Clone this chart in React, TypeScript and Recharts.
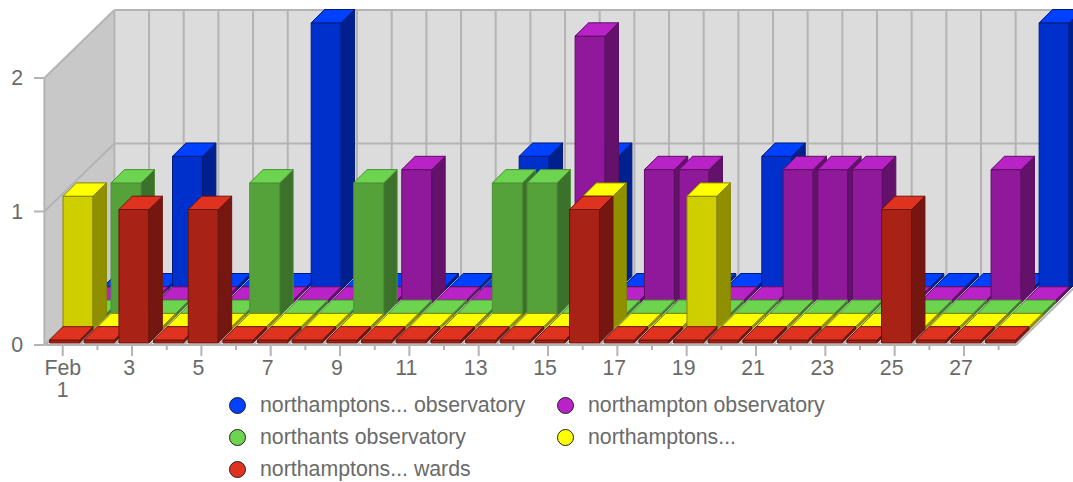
import { BarChart, Bar, XAxis, YAxis, Legend } from "recharts"

const days = [1, 2, 3, 4, 5, 6, 7, 8, 9, 10, 11, 12, 13, 14, 15, 16, 17, 18, 19, 20, 21, 22, 23, 24, 25, 26, 27, 28]
const yTicks = [0, 1, 2]

// one value per day of February
const observatoryA = [0, 0, 1, 0, 0, 0, 2, 0, 0, 0, 0, 0, 1, 0, 1, 0, 0, 0, 0, 1, 0, 0, 0, 0, 0, 0, 0, 2]
const observatoryB = [0, 0, 0, 0, 0, 0, 0, 0, 0, 1, 0, 0, 0, 0, 2, 0, 1, 1, 0, 0, 1, 1, 1, 0, 0, 0, 1, 0]
const northants = [0, 1, 0, 0, 0, 1, 0, 0, 1, 0, 0, 0, 1, 1, 0, 0, 0, 0, 0, 0, 0, 0, 0, 0, 0, 0, 0, 0]
const northamptons = [1, 0, 0, 0, 0, 0, 0, 0, 0, 0, 0, 0, 0, 0, 0, 1, 0, 0, 1, 0, 0, 0, 0, 0, 0, 0, 0, 0]
const wards = [0, 0, 1, 0, 1, 0, 0, 0, 0, 0, 0, 0, 0, 0, 0, 1, 0, 0, 0, 0, 0, 0, 0, 0, 1, 0, 0, 0]

const data = days.map((day, i) => ({
  day,
  observatoryA: observatoryA[i],
  observatoryB: observatoryB[i],
  northants: northants[i],
  northamptons: northamptons[i],
  wards: wards[i],
}))

const WIDTH = 1073
const HEIGHT = 482
const LEFT = 45.4
const RIGHT = 1016
const TOP = 78
const BOTTOM = 345
const WALL_DX = 69
const WALL_DY = 68
const DEPTH_DX = 13.4
const DEPTH_DY = 13.3
const BAR_W = 30
const LINE = "#b4b4b4"
const TEXT = "#6a6a6a"
const FONT = "'Liberation Sans', Arial, sans-serif"
const FONT_SIZE = 21.3

function Backdrop() {
  const band = (RIGHT - LEFT) / days.length
  const y1 = (TOP + BOTTOM) / 2
  const grid = [...days, 0]
  return (
    <g>
      <polygon
        points={`${LEFT + WALL_DX},${TOP - WALL_DY} ${RIGHT + WALL_DX},${TOP - WALL_DY} ${RIGHT + WALL_DX},${BOTTOM - WALL_DY} ${LEFT + WALL_DX},${BOTTOM - WALL_DY}`}
        fill="#dcdcdc"
      />
      <polygon
        points={`${LEFT - 1},${TOP} ${LEFT + WALL_DX},${TOP - WALL_DY} ${LEFT + WALL_DX},${BOTTOM - WALL_DY} ${LEFT - 1},${BOTTOM}`}
        fill="#c8c8c8"
      />
      <polygon
        points={`${LEFT},${BOTTOM} ${RIGHT},${BOTTOM} ${RIGHT + WALL_DX},${BOTTOM - WALL_DY} ${LEFT + WALL_DX},${BOTTOM - WALL_DY}`}
        fill="#ffffff"
      />
      {grid.map((d) => {
        const x = LEFT + d * band
        return (
          <g key={d} stroke={LINE} strokeWidth={2}>
            <line x1={x + WALL_DX} y1={TOP - WALL_DY} x2={x + WALL_DX} y2={BOTTOM - WALL_DY} />
            <line x1={x} y1={BOTTOM} x2={x + WALL_DX} y2={BOTTOM - WALL_DY} />
          </g>
        )
      })}
      <g stroke={LINE} strokeWidth={2} fill="none">
        <line x1={LEFT + WALL_DX} y1={TOP - WALL_DY} x2={RIGHT + WALL_DX} y2={TOP - WALL_DY} />
        <line x1={LEFT + WALL_DX} y1={y1 - WALL_DY} x2={RIGHT + WALL_DX} y2={y1 - WALL_DY} />
        <line x1={LEFT + WALL_DX} y1={BOTTOM - WALL_DY} x2={RIGHT + WALL_DX} y2={BOTTOM - WALL_DY} />
        <line x1={LEFT - 1} y1={TOP} x2={LEFT - 1} y2={BOTTOM} />
        <line x1={LEFT - 1} y1={TOP} x2={LEFT + WALL_DX} y2={TOP - WALL_DY} />
        <line x1={LEFT - 1} y1={y1} x2={LEFT + WALL_DX} y2={y1 - WALL_DY} />
        <line x1={LEFT - 1} y1={BOTTOM} x2={LEFT + WALL_DX} y2={BOTTOM - WALL_DY} />
      </g>
    </g>
  )
}

function Box3D(props: any) {
  const { x, y, height, depth, front, side, top, edge } = props
  const left = x + 2.2 + depth * DEPTH_DX
  const base = y + height - 2 - depth * DEPTH_DY
  const upper = height > 0 ? y - 2 - depth * DEPTH_DY : base - 3
  const right = left + BAR_W
  return (
    <g stroke={edge} strokeWidth={1} strokeLinejoin="round">
      <rect x={left} y={upper} width={BAR_W} height={base - upper} fill={front} />
      <polygon
        points={`${right},${upper} ${right + DEPTH_DX},${upper - DEPTH_DY} ${right + DEPTH_DX},${base - DEPTH_DY} ${right},${base}`}
        fill={side}
      />
      <polygon
        points={`${left},${upper} ${left + DEPTH_DX},${upper - DEPTH_DY} ${right + DEPTH_DX},${upper - DEPTH_DY} ${right},${upper}`}
        fill={top}
      />
    </g>
  )
}

function DayTick({ x, y, payload }: any) {
  const odd = payload.value % 2 === 1
  const first = payload.value === 1
  return (
    <g>
      <line x1={x} y1={BOTTOM} x2={x} y2={BOTTOM + (odd ? 11 : 5)} stroke={LINE} strokeWidth={2} />
      {odd && (
        <text x={first ? x : x - 3} y={y + 22} textAnchor="middle" fontSize={FONT_SIZE} fontFamily={FONT} fill={TEXT}>
          {first ? "Feb" : payload.value}
        </text>
      )}
      {first && (
        <text x={x} y={y + 44} textAnchor="middle" fontSize={FONT_SIZE} fontFamily={FONT} fill={TEXT}>
          {payload.value}
        </text>
      )}
    </g>
  )
}

function ValueTick({ y, payload }: any) {
  return (
    <g>
      <line x1={34} y1={y} x2={LEFT - 1} y2={y} stroke={LINE} strokeWidth={2} />
      <text x={23} y={y + 7} textAnchor="end" fontSize={FONT_SIZE} fontFamily={FONT} fill={TEXT}>
        {payload.value}
      </text>
    </g>
  )
}

const legendSpots = [
  { left: 229, top: 8 },
  { left: 557, top: 8 },
  { left: 229, top: 40 },
  { left: 557, top: 40 },
  { left: 229, top: 72 },
]

function LegendRows({ payload }: any) {
  return (
    <div style={{ position: "relative", width: WIDTH, height: 97, fontFamily: FONT, fontSize: FONT_SIZE, color: TEXT }}>
      {(payload || []).map((item: any, i: number) => (
        <div
          key={item.value}
          style={{ position: "absolute", left: legendSpots[i].left, top: legendSpots[i].top, display: "flex", alignItems: "center", lineHeight: "24px", whiteSpace: "nowrap" }}
        >
          <span
            style={{ width: 15, height: 15, borderRadius: "50%", background: item.color, border: "1px solid #222", marginRight: 14 }}
          />
          {item.value}
        </div>
      ))}
    </div>
  )
}

export default function App() {
  return (
    <div style={{ position: "absolute", left: 0, top: 0, width: WIDTH, height: HEIGHT }}>
      <BarChart
        width={WIDTH}
        height={HEIGHT}
        data={data}
        barSize={BAR_W}
        barGap={-BAR_W}
        margin={{ top: TOP, right: WIDTH - RIGHT, bottom: 0, left: 0 }}
      >
        <Backdrop />
        <XAxis
          dataKey="day"
          interval={0}
          height={40}
          tick={<DayTick />}
          tickLine={false}
          axisLine={{ stroke: LINE, strokeWidth: 2 }}
        />
        <YAxis
          width={LEFT}
          domain={[0, 2]}
          ticks={yTicks}
          tick={<ValueTick />}
          tickLine={false}
          axisLine={false}
        />
        <Legend
          verticalAlign="bottom"
          height={97}
          itemSorter={null}
          wrapperStyle={{ left: 0, width: WIDTH }}
          content={<LegendRows />}
        />
        <Bar
          dataKey="observatoryA"
          name="northamptons... observatory"
          fill="#0041ff"
          isAnimationActive={false}
          shape={<Box3D depth={4} front="#0030cc" side="#002090" top="#0041ff" edge="#001c78" />}
        />
        <Bar
          dataKey="observatoryB"
          name="northampton observatory"
          fill="#b922c6"
          isAnimationActive={false}
          shape={<Box3D depth={3} front="#8f199a" side="#64116c" top="#b922c6" edge="#5a1061" />}
        />
        <Bar
          dataKey="northants"
          name="northants observatory"
          fill="#6cd44f"
          isAnimationActive={false}
          shape={<Box3D depth={2} front="#55a23b" side="#3b712a" top="#6cd44f" edge="#4f8f38" />}
        />
        <Bar
          dataKey="northamptons"
          name="northamptons..."
          fill="#ffff00"
          isAnimationActive={false}
          shape={<Box3D depth={1} front="#cfcf00" side="#908f00" top="#ffff00" edge="#858500" />}
        />
        <Bar
          dataKey="wards"
          name="northamptons... wards"
          fill="#e0331f"
          isAnimationActive={false}
          shape={<Box3D depth={0} front="#a82215" side="#751710" top="#e0331f" edge="#6b150e" />}
        />
      </BarChart>
    </div>
  )
}
